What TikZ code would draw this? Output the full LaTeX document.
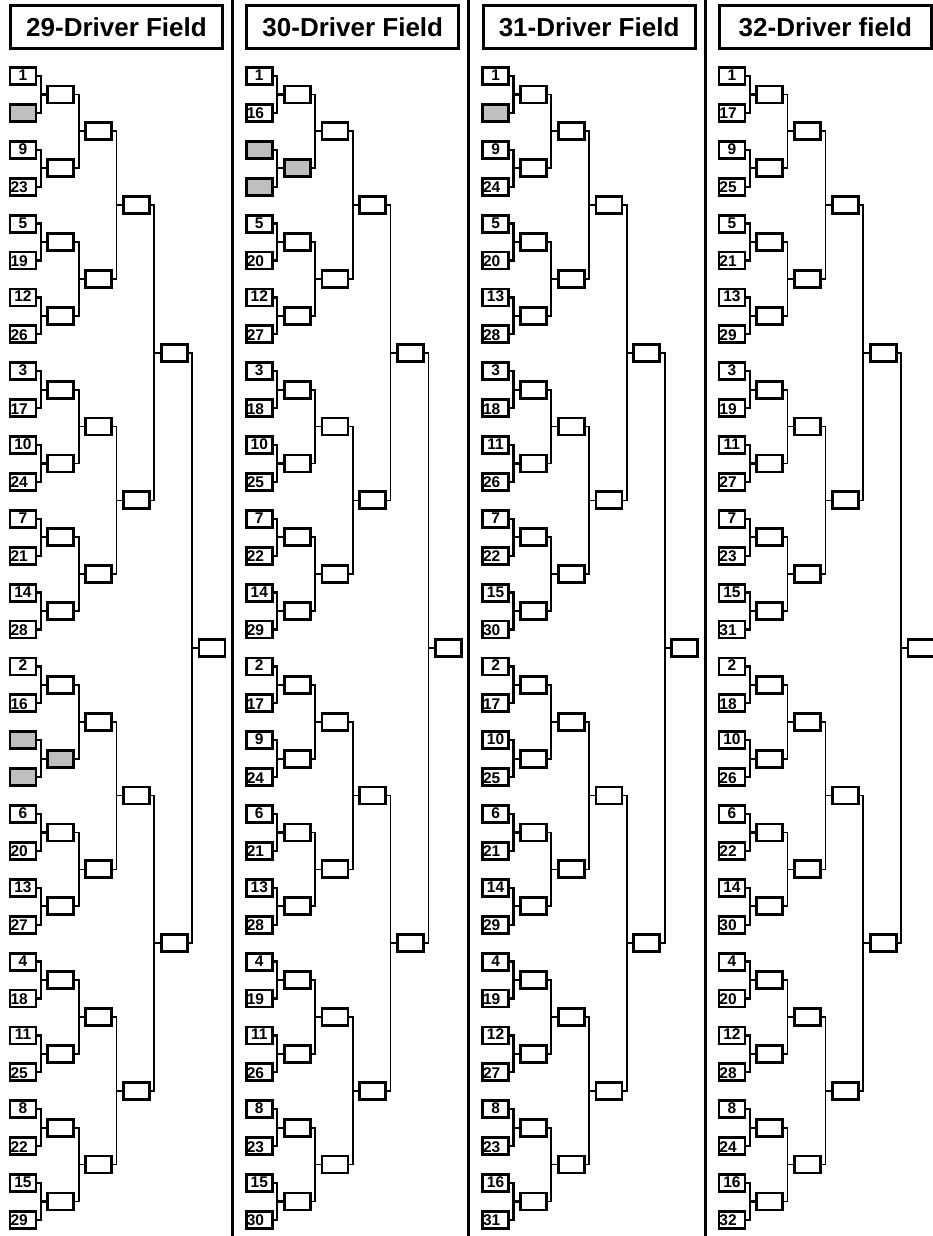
\documentclass[tikz,border=0pt]{standalone}
\usepackage{fontspec}
\setmainfont{Liberation Sans}

\begin{document}
\begin{tikzpicture}[x=1pt,y=-1pt,
  seedbox/.style={draw,line width=2.8pt,minimum height=17pt,inner ysep=0pt,
    inner xsep=2pt,text width=22pt,font=\bfseries\fontsize{15.5}{15.5}\selectfont},
  seedtop/.style={seedbox,align=center,text height=11pt,text depth=2pt},
  seedbot/.style={seedbox,align=left,inner xsep=0.5pt,text width=25pt,
    text height=12pt,text depth=0pt},
  matchbox/.style={seedbox},
  headbox/.style={draw,line width=3pt,minimum width=212pt,minimum height=43pt,
    font=\bfseries\fontsize{26}{26}\selectfont}]
  \useasboundingbox (0,0) rectangle (933,1236);
  % one bracket per field size, 0 = empty (shaded) slot
  \foreach \c/\field/\seeds in {
    0/{29-Driver Field}/{1,0,9,23,5,19,12,26,3,17,10,24,7,21,14,28,2,16,0,0,6,20,13,27,4,18,11,25,8,22,15,29},
    1/{30-Driver Field}/{1,16,0,0,5,20,12,27,3,18,10,25,7,22,14,29,2,17,9,24,6,21,13,28,4,19,11,26,8,23,15,30},
    2/{31-Driver Field}/{1,0,9,24,5,20,13,28,3,18,11,26,7,22,15,30,2,17,10,25,6,21,14,29,4,19,12,27,8,23,16,31},
    3/{32-Driver field}/{1,17,9,25,5,21,13,29,3,19,11,27,7,23,15,31,2,18,10,26,6,22,14,30,4,20,12,28,8,24,16,32}} {
    \pgfmathsetmacro\ox{236.3*\c}
    \node[headbox] (h\c) at (116.5+\ox,27) {\field};
    \foreach \s [count=\i from 0] in \seeds {
      \pgfmathsetmacro\sy{76+36.9*\i}
      \ifnum\s=0 \node[seedbox,fill=black!25] (n\c-0-\i) at (23+\ox,\sy) {};
      \else\ifodd\i \node[seedbot] (n\c-0-\i) at (23+\ox,\sy) {\s};
      \else \node[seedtop] (n\c-0-\i) at (23+\ox,\sy) {\s};\fi\fi
    }
    \foreach \r in {1,...,5} {
      \pgfmathtruncatemacro\nk{32/2^\r-1}
      \pgfmathtruncatemacro\rp{\r-1}
      \foreach \k in {0,...,\nk} {
        \pgfmathsetmacro\my{76+36.9*(\k*2^\r+(2^\r-1)/2)}
        \pgfmathtruncatemacro\ka{2*\k}
        \pgfmathtruncatemacro\kb{2*\k+1}
        \pgfmathtruncatemacro\sh{(\c==0)*(\r==1)*(\k==9)+(\c==1)*(\r==1)*(\k==1)}
        \ifnum\sh=1 \def\mfill{black!25}\else\def\mfill{white}\fi
        \ifnum\r=1 \def\lw{2.3pt}\else\def\lw{1.7pt}\fi
        \node[matchbox,fill=\mfill] (n\c-\r-\k) at (23+37.8*\r+\ox,\my) {};
        \draw[line width=\lw] (n\c-\rp-\ka.east) -| ([xshift=-5.5pt]n\c-\r-\k.west)
          |- (n\c-\rp-\kb.east);
        \draw[line width=\lw] ([xshift=-5.5pt]n\c-\r-\k.west) -- (n\c-\r-\k.west);
      }
    }
  }
  \foreach \x in {232.5,468.8,705.1}
    \draw[line width=3pt] (\x,0) -- (\x,1236);
\end{tikzpicture}
\end{document}
